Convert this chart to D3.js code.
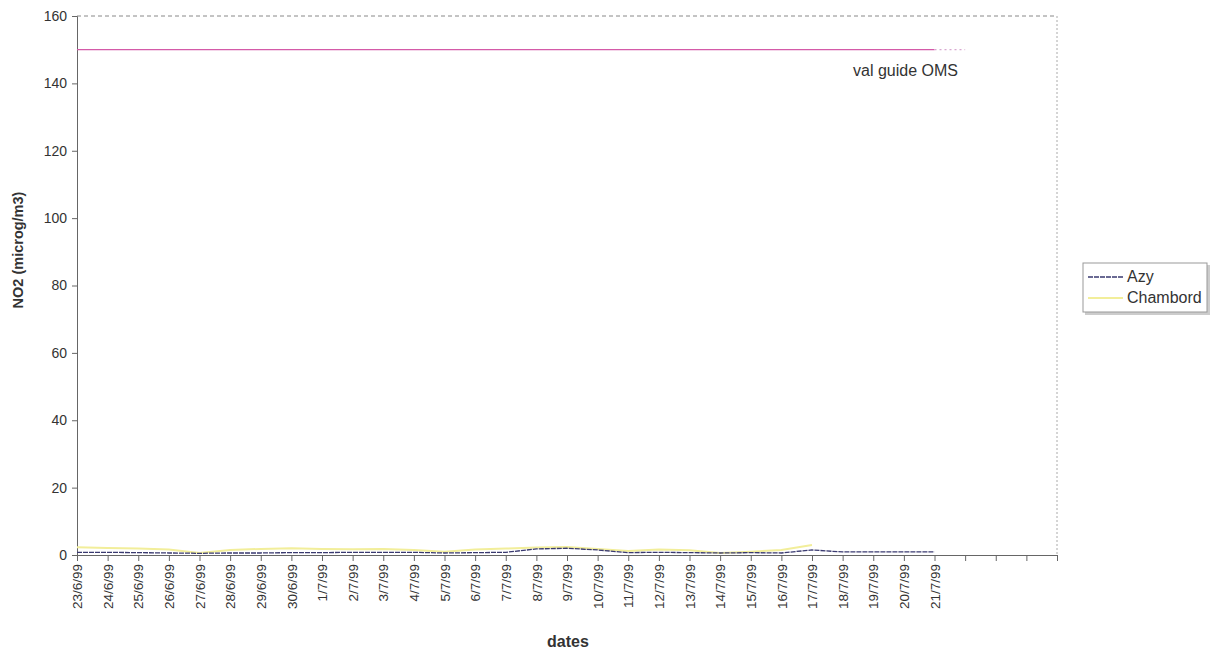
<!DOCTYPE html>
<html><head><meta charset="utf-8">
<script src="https://cdn.jsdelivr.net/npm/d3@7"></script>
<style>body{margin:0;background:#fff;} svg{display:block;font-family:"Liberation Sans",Arial,sans-serif;}</style>
</head><body>
<svg id="c" width="1212" height="654"></svg>
<script>
const dates = ["23/6/99","24/6/99","25/6/99","26/6/99","27/6/99","28/6/99","29/6/99","30/6/99",
"1/7/99","2/7/99","3/7/99","4/7/99","5/7/99","6/7/99","7/7/99","8/7/99","9/7/99","10/7/99",
"11/7/99","12/7/99","13/7/99","14/7/99","15/7/99","16/7/99","17/7/99","18/7/99","19/7/99","20/7/99","21/7/99"];
const emptySlots = 4;
const azy = [0.8,0.8,0.7,0.6,0.5,0.6,0.6,0.7,0.7,0.8,0.8,0.8,0.6,0.7,0.8,1.8,2.0,1.5,0.7,0.8,0.7,0.6,0.7,0.6,1.5,0.9,0.9,0.9,0.9];
const chambord = [2.3,2.1,1.9,1.6,0.6,1.5,1.8,2.0,1.8,1.7,1.8,1.5,1.0,1.6,1.9,2.2,2.4,1.8,1.2,1.6,1.4,0.6,1.0,1.5,3.0,null,null,null,null];
const guideValues = [150,150,150,150,150,150,150,150,150,150,150,150,150,150,150,150,150,150,150,150,150,150,150,150,150,150,150,150,150,150];
const yTicks = [0,20,40,60,80,100,120,140,160];

const svg = d3.select("#c");
const L=77, R=1057, T=16, B=555;
const n = dates.length + emptySlots;
const x = d3.scaleLinear().domain([0,n-1]).range([L,R]);
const y = d3.scaleLinear().domain([0,160]).range([B,T]);

// plot border
svg.append("line").attr("x1",L).attr("x2",R).attr("y1",T).attr("y2",T).attr("stroke","#888").attr("stroke-dasharray","4,3");
svg.append("line").attr("x1",R).attr("x2",R).attr("y1",T).attr("y2",B).attr("stroke","#aaa").attr("stroke-dasharray","2,2");

// y axis
const ya = svg.append("g").attr("transform",`translate(${L},0)`)
  .call(d3.axisLeft(y).tickValues(yTicks).tickSize(5).tickPadding(5));
ya.select(".domain").attr("stroke","#666");
ya.selectAll(".tick line").attr("stroke","#666");
ya.selectAll("text").attr("font-size",14).attr("fill","#333").attr("font-family","Liberation Sans, Arial, sans-serif");

// x axis
const xa = svg.append("g").attr("transform",`translate(0,${B})`)
  .call(d3.axisBottom(x).tickValues(d3.range(n)).tickSize(6).tickFormat(i=>dates[i]||""));
xa.select(".domain").attr("stroke","#666");
xa.selectAll(".tick line").attr("stroke","#666");
xa.selectAll("text").attr("font-size",13.5).attr("fill","#333")
  .attr("font-family","Liberation Sans, Arial, sans-serif")
  .attr("transform","rotate(-90)").attr("text-anchor","end")
  .attr("x",-9).attr("y",0).attr("dy","0.35em");

// guide line
const gl = d3.line().x((d,i)=>x(i)).y(d=>y(d));
svg.append("path").datum(guideValues.slice(0,dates.length)).attr("d",gl)
  .attr("fill","none").attr("stroke","#d45aa8").attr("stroke-width",1.3);
svg.append("path").datum(guideValues).attr("d",d3.line().x((d,i)=>x(i)).y(d=>y(d)).defined((d,i)=>i>=dates.length-1))
  .attr("fill","none").attr("stroke","#d8a8d0").attr("stroke-width",1.2).attr("stroke-dasharray","2,3");
svg.append("text").attr("x",853).attr("y",76).attr("font-size",16).attr("fill","#333").text("val guide OMS");

// series
const sl = d3.line().defined(d=>d!=null).x((d,i)=>x(i)).y(d=>y(d));
svg.append("path").datum(chambord).attr("d",sl).attr("fill","none").attr("stroke","#f2ee9a").attr("stroke-width",2);
svg.append("path").datum(azy).attr("d",sl).attr("fill","none").attr("stroke","#3a3a70").attr("stroke-width",1.3).attr("stroke-dasharray","5,1");

// axis titles
svg.append("text").attr("transform","translate(23,250) rotate(-90)").attr("text-anchor","middle")
  .attr("font-size",14.5).attr("font-weight","bold").attr("fill","#333").text("NO2 (microg/m3)");
svg.append("text").attr("x",568).attr("y",647).attr("text-anchor","middle")
  .attr("font-size",16).attr("font-weight","bold").attr("fill","#333").text("dates");

// legend
const lg = svg.append("g").attr("transform","translate(1083,263)");
lg.append("rect").attr("x",2).attr("y",2).attr("width",125).attr("height",50).attr("fill","#ccc");
lg.append("rect").attr("width",124).attr("height",49).attr("fill","#fff").attr("stroke","#999");
lg.append("line").attr("x1",5).attr("x2",40).attr("y1",14).attr("y2",14).attr("stroke","#3a3a70").attr("stroke-width",1.3).attr("stroke-dasharray","5,1");
lg.append("text").attr("x",44).attr("y",19).attr("font-size",16).attr("fill","#333").text("Azy");
lg.append("line").attr("x1",5).attr("x2",40).attr("y1",35).attr("y2",35).attr("stroke","#f2ee9a").attr("stroke-width",2);
lg.append("text").attr("x",44).attr("y",40).attr("font-size",16).attr("fill","#333").text("Chambord");
</script>
</body></html>
